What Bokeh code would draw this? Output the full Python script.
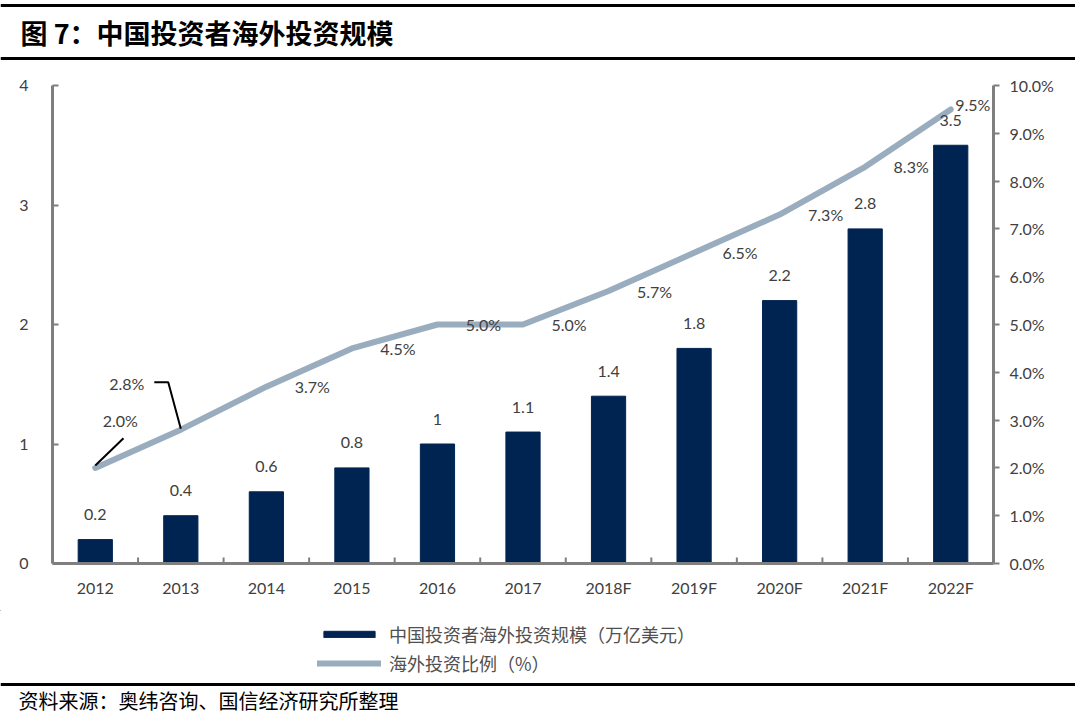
from bokeh.plotting import figure
from bokeh.models import (Range1d, FactorRange, LinearAxis, SingleIntervalTicker,
                          PrintfTickFormatter, ColumnDataSource, LabelSet, Label,
                          Legend, LegendItem)
from bokeh.layouts import column, row
from bokeh.core.properties import value
from bokeh.embed import file_html
from bokeh.resources import INLINE

# ---------------- data ----------------
title_text = "图 7：中国投资者海外投资规模"
source_text = "资料来源：奥纬咨询、国信经济研究所整理"
categories = ["2012", "2013", "2014", "2015", "2016", "2017",
              "2018F", "2019F", "2020F", "2021F", "2022F"]
scale_values = [0.2, 0.4, 0.6, 0.8, 1.0, 1.1, 1.4, 1.8, 2.2, 2.8, 3.5]   # 万亿美元
ratio_values = [2.0, 2.8, 3.7, 4.5, 5.0, 5.0, 5.7, 6.5, 7.3, 8.3, 9.5]  # %
series_names = ["中国投资者海外投资规模（万亿美元）", "海外投资比例（%）"]

# ---------------- styles ----------------
W = 1075
NAVY = "#002451"
LINE = "#9AADBF"
AXIS = "#7F7F7F"
TXT = "#404040"
NUM_FONT = "Lato"
CJK = "Noto Sans CJK SC"

# ---------------- header ----------------
HH = 62
hdr = figure(width=W, height=HH, x_range=Range1d(0, W), y_range=Range1d(HH, 0),
             x_axis_type=None, y_axis_type=None, toolbar_location=None,
             output_backend="svg", min_border=0, outline_line_color=None)
hdr.grid.visible = False
hdr.segment(x0=[0, 0], y0=[5, 58], x1=[W, W], y1=[5, 58],
            line_color="black", line_width=3)
hdr.text(x=[20], y=[32], text=[title_text], text_font=value(CJK),
         text_font_size="27px", text_font_style="bold", text_baseline="middle",
         text_color="black")

# ---------------- main chart ----------------
p = figure(width=W, height=548, x_range=FactorRange(factors=categories),
           y_range=Range1d(0, 4), toolbar_location=None, output_backend="svg",
           min_border_left=52, min_border_right=82, min_border_top=23,
           min_border_bottom=47, outline_line_color=None)
p.grid.visible = False
p.extra_y_ranges = {"pct": Range1d(0, 10)}

src = ColumnDataSource(dict(
    cat=categories, val=scale_values, pct=ratio_values,
    val_txt=["%g" % v for v in scale_values],
    pct_txt=["%.1f%%" % v for v in ratio_values],
))

bar_style = dict(fill_color=NAVY, line_color=NAVY)
line_style = dict(line_color=LINE, line_width=6, line_join="round", line_cap="round")

p.vbar(x="cat", top="val", width=0.4, source=src, **bar_style)
p.line(x="cat", y="pct", source=src, y_range_name="pct", **line_style)

# x-axis separator ticks between categories (synthetic coords: boundaries at integers)
n = len(categories)
bounds = list(range(1, n))
p.segment(x0=bounds, y0=[0] * len(bounds), x1=bounds, y1=[0.05] * len(bounds),
          line_color=AXIS, line_width=2)

# axes
for ax in p.xaxis:
    ax.axis_line_color = AXIS
    ax.axis_line_width = 3
    ax.major_tick_in = 0
    ax.major_tick_out = 0
    ax.major_label_text_font = NUM_FONT
    ax.major_label_text_font_size = "16px"
    ax.major_label_text_color = TXT
    ax.major_label_standoff = 14

for ax in p.yaxis:
    ax.ticker = SingleIntervalTicker(interval=1)
    ax.axis_line_color = AXIS
    ax.axis_line_width = 3
    ax.major_tick_in = 6
    ax.major_tick_out = 0
    ax.minor_tick_line_color = None
    ax.major_tick_line_color = AXIS
    ax.major_tick_line_width = 2
    ax.major_label_text_font = NUM_FONT
    ax.major_label_text_font_size = "16px"
    ax.major_label_text_color = TXT
    ax.major_label_standoff = 20

rax = LinearAxis(y_range_name="pct", ticker=SingleIntervalTicker(interval=1),
                 formatter=PrintfTickFormatter(format="%.1f%%"))
rax.axis_line_color = AXIS
rax.axis_line_width = 3
rax.major_tick_in = 0
rax.major_tick_out = 6
rax.minor_tick_line_color = None
rax.major_tick_line_color = AXIS
rax.major_tick_line_width = 2
rax.major_label_text_font = NUM_FONT
rax.major_label_text_font_size = "16px"
rax.major_label_text_color = TXT
rax.major_label_standoff = 10
p.add_layout(rax, "right")

# bar value labels
p.add_layout(LabelSet(x="cat", y="val", text="val_txt", source=src,
                      y_offset=25, text_align="center", text_baseline="middle",
                      text_font=value(NUM_FONT), text_font_size="16px",
                      text_color=TXT))

# line value labels (points 3..10 placed to the right)
src_mid = ColumnDataSource(dict(cat=categories[2:n - 1], pct=ratio_values[2:n - 1],
                                pct_txt=["%.1f%%" % v for v in ratio_values[2:n - 1]]))
p.add_layout(LabelSet(x="cat", y="pct", text="pct_txt", source=src_mid,
                      y_range_name="pct", x_offset=46, text_align="center",
                      text_baseline="middle", text_font=value(NUM_FONT),
                      text_font_size="16px", text_color=TXT))

def pct_label(i, dx, dy):
    p.add_layout(Label(x=i + 0.5, y=ratio_values[i], y_range_name="pct",
                       text="%.1f%%" % ratio_values[i], x_offset=dx, y_offset=dy,
                       text_align="center", text_baseline="middle",
                       text_font=NUM_FONT, text_font_size="16px", text_color=TXT))

pct_label(0, 25, 47)
pct_label(1, -54, 46)
pct_label(n - 1, 22, 5)

# leader lines for the first two labels
p.line(x=[0.5, 0.83], y=[ratio_values[0] + 0.05, ratio_values[0] + 0.62],
       y_range_name="pct", line_color="black", line_width=2)
p.line(x=[1.5, 1.353, 1.19],
       y=[ratio_values[1] + 0.02, ratio_values[1] + 0.99, ratio_values[1] + 0.99],
       y_range_name="pct", line_color="black", line_width=2)

# ---------------- footer: legend, rule, source ----------------
FH = 104
ftr = figure(width=W, height=FH, x_range=Range1d(0, W), y_range=Range1d(FH, 0),
             x_axis_type=None, y_axis_type=None, toolbar_location=None,
             output_backend="svg", min_border=0, outline_line_color=None)
ftr.grid.visible = False
# legend sample renderers, kept outside the visible range
leg_bar = ftr.vbar(x=[-500], top=[-60], bottom=[-50], width=1, **bar_style)
leg_line = ftr.line(x=[-500, -400], y=[-60, -60], **line_style)
legend = Legend(items=[LegendItem(label=series_names[0], renderers=[leg_bar]),
                       LegendItem(label=series_names[1], renderers=[leg_line])],
                location=(317, 38), orientation="vertical",
                glyph_width=64, glyph_height=8, label_height=20, spacing=3,
                padding=0, margin=0, label_standoff=8,
                label_text_font=CJK, label_text_font_size="18px",
                label_text_color="#505050", border_line_color=None,
                background_fill_alpha=0)
ftr.add_layout(legend)
ftr.segment(x0=[0], y0=[74], x1=[W], y1=[74], line_color="black", line_width=3)
ftr.text(x=[18], y=[90], text=[source_text], text_font=value(CJK),
         text_font_size="20px", text_baseline="middle", text_color="black")

layout = column(row(hdr), p, row(ftr), spacing=0)
open("out.html", "w").write(file_html(layout, INLINE))
